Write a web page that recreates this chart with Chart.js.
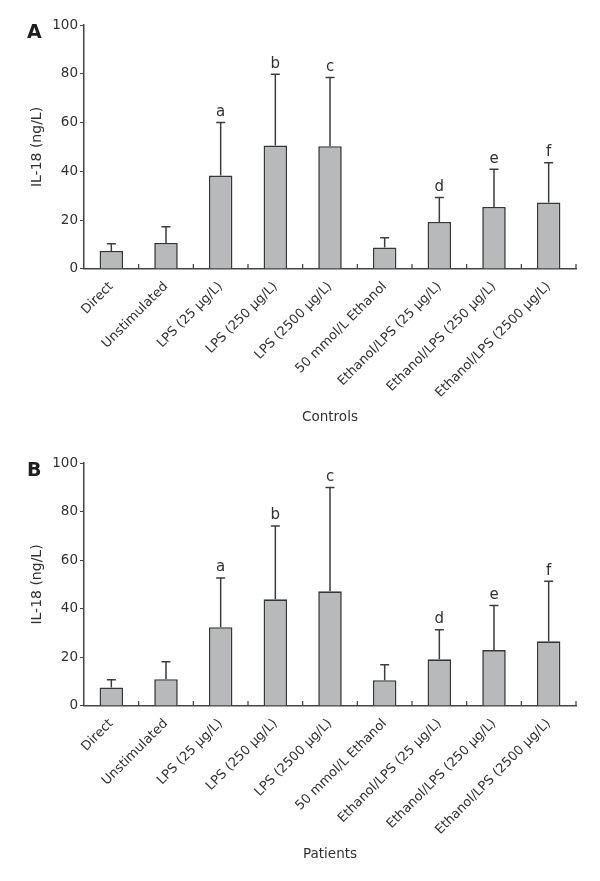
<!DOCTYPE html>
<html>
<head>
<meta charset="utf-8">
<script src="https://cdn.jsdelivr.net/npm/chart.js@4"></script>
<style>
  body { margin: 0; background: #fff; }
  canvas { display: block; }
</style>
</head>
<body>
<canvas id="grafA" width="600" height="440"></canvas>
<canvas id="grafB" width="600" height="441"></canvas>
<script>
// categorias do eixo x
const categorias = ["Direct", "Unstimulated", "LPS (25 μg/L)", "LPS (250 μg/L)", "LPS (2500 μg/L)",
    "50 mmol/L Ethanol", "Ethanol/LPS (25 μg/L)", "Ethanol/LPS (250 μg/L)", "Ethanol/LPS (2500 μg/L)"];
// letras de significância acima das barras de erro
const letras = ["", "", "a", "b", "c", "", "d", "e", "f"];

// Controles (painel A)
const controlesMedia = [7.4, 10.7, 38.3, 50.6, 50.3, 8.8, 19.3, 25.4, 27.2];
const controlesDP = [2.9, 6.6, 21.7, 29.2, 28.2, 4.0, 10.0, 15.5, 16.3];

// Pacientes (painel B)
const pacientesMedia = [7.6, 11.0, 32.4, 43.9, 47.2, 10.6, 19.2, 23.0, 26.6];
const pacientesDP = [3.2, 7.2, 20.3, 30.2, 42.7, 6.4, 12.2, 18.4, 24.7];

const ticksY = [0, 20, 40, 60, 80, 100];

const corTexto = "#303030";
const fonte = "'DejaVu Sans', Verdana, sans-serif";

// plugin que desenha barras de erro (só para cima), letras e marcas internas do eixo x
const barrasErro = {
    id: "barrasErro",
    afterDatasetsDraw(chart, args, opts) {
        const ctx = chart.ctx;
        const x = chart.scales.x, y = chart.scales.y;
        const medias = chart.data.datasets[0].data;
        ctx.save();
        ctx.strokeStyle = "#3c3c3c";
        ctx.lineWidth = 1.5;
        ctx.fillStyle = corTexto;
        ctx.font = "15px " + fonte;
        ctx.textAlign = "center";
        ctx.textBaseline = "bottom";
        medias.forEach((m, i) => {
            const px = x.getPixelForValue(i);
            const yBase = y.getPixelForValue(m);
            const yTopo = y.getPixelForValue(m + opts.dp[i]);
            ctx.beginPath();
            ctx.moveTo(px, yBase);
            ctx.lineTo(px, yTopo);
            ctx.moveTo(px - 4.5, yTopo);
            ctx.lineTo(px + 4.5, yTopo);
            ctx.stroke();
            if (letras[i]) ctx.fillText(letras[i], px, yTopo - 3);
        });
        // marcas entre categorias, voltadas para dentro
        const y0 = y.getPixelForValue(0);
        ctx.lineWidth = 1.2;
        ctx.beginPath();
        for (let i = 0; i < medias.length; i++) {
            const meio = i < medias.length - 1
                ? (x.getPixelForValue(i) + x.getPixelForValue(i + 1)) / 2
                : x.right;
            ctx.moveTo(meio, y0);
            ctx.lineTo(meio, y0 - 5);
        }
        ctx.stroke();
        // letra do painel
        ctx.font = "bold 19px " + fonte;
        ctx.textAlign = "left";
        ctx.textBaseline = "middle";
        ctx.fillStyle = "#1e1e1e";
        ctx.fillText(opts.painel, 27, opts.painelY);
        ctx.restore();
    }
};

function montarGrafico(id, medias, dps, painel, titulo, topo, base) {
    const config = {
        type: "bar",
        data: {
            labels: categorias,
            datasets: [{
                data: medias,
                backgroundColor: "#b7b9bb",
                borderColor: "#363636",
                borderWidth: 1.6,
                barPercentage: 0.43,
                categoryPercentage: 1
            }]
        },
        options: {
            responsive: false,
            animation: false,
            layout: { padding: { top: topo, right: 24, left: 29, bottom: base } },
            plugins: {
                legend: { display: false },
                tooltip: { enabled: false },
                barrasErro: { dp: dps, painel: painel, painelY: topo + 8 }
            },
            scales: {
                x: {
                    grid: { display: false },
                    border: { color: "#444", width: 1.5 },
                    ticks: {
                        color: corTexto, font: { family: fonte, size: 13 },
                        minRotation: 45, maxRotation: 45, padding: 2
                    },
                    title: { display: true, text: titulo, color: corTexto, font: { family: fonte, size: 13.5 }, padding: { top: 7, bottom: 0 } }
                },
                y: {
                    min: 0, max: 100,
                    afterFit(scale) { scale.width = 55; },
                    afterBuildTicks(scale) { scale.ticks = ticksY.map(v => ({ value: v })); },
                    grid: { display: true, drawOnChartArea: false, tickLength: 4, color: "#444" },
                    border: { color: "#444", width: 1.5 },
                    ticks: { color: corTexto, font: { family: fonte, size: 13.5 }, padding: 2 },
                    title: { display: true, text: "IL-18 (ng/L)", color: corTexto, font: { family: fonte, size: 14 }, padding: { top: 0, bottom: 4 } }
                }
            }
        },
        plugins: [barrasErro]
    };
    return new Chart(document.getElementById(id).getContext("2d"), config);
}

montarGrafico("grafA", controlesMedia, controlesDP, "A", "Controls", 25, 14);
montarGrafico("grafB", pacientesMedia, pacientesDP, "B", "Patients", 23, 18);
</script>
</body>
</html>
